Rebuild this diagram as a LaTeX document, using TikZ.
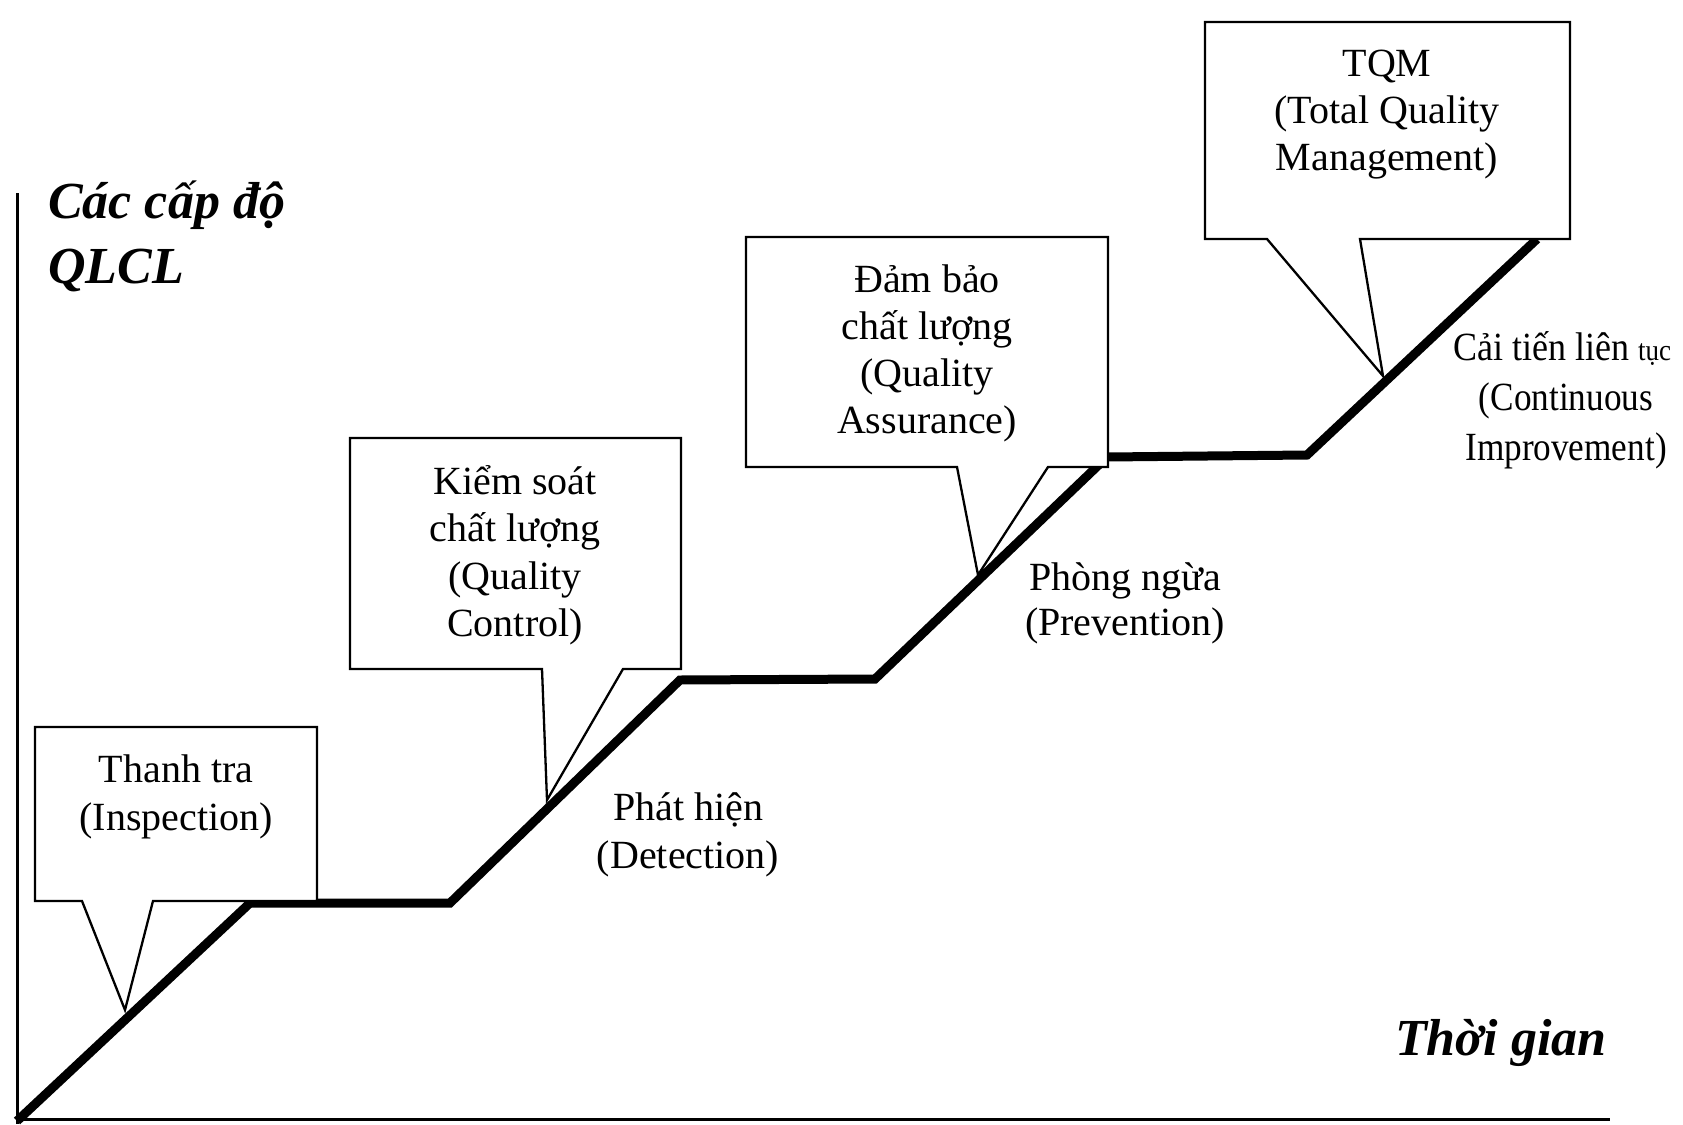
\documentclass[tikz,border=0pt]{standalone}
\usepackage{fontspec}
\setmainfont{Liberation Serif}
\begin{document}
\begin{tikzpicture}[x=1pt,y=-1pt,
  lbl/.style={anchor=base,inner sep=0pt,font=\fontsize{40}{48}\selectfont},
  axlbl/.style={anchor=base west,inner sep=0pt,font=\fontsize{52}{60}\selectfont\bfseries\itshape},
  axis/.style={line width=3pt},
  stair/.style={line width=9pt,line join=miter},
  callout/.style={line width=2.3pt,fill=white,line join=miter}]
\useasboundingbox (0,0) rectangle (1683,1124);

% axes
\coordinate (O) at (17,1121);
\coordinate (ytop) at (17,193);
\coordinate (ybot) at (17,1124);
\coordinate (xbeg) at (17,1119);
\coordinate (xend) at (1610,1119);
\draw[axis] (ytop) -- (ybot);
\draw[axis] (xbeg) -- (xend);

% staircase of quality levels
\coordinate (s1) at (250,903);
\coordinate (s2) at (450,903);
\coordinate (s3) at (680,680);
\coordinate (s4) at (875,679);
\coordinate (s5) at (1107,457);
\coordinate (s6) at (1307,455);
\coordinate (s7) at (1537,239);
\draw[stair] (O) -- (s1) -- (s2) -- (s3) -- (s4) -- (s5) -- (s6) -- (s7);

% callout boxes
\draw[callout] (35,727) -- (317,727) -- (317,901) -- (153,901) -- (125,1010) -- (82,901) -- (35,901) -- cycle;
\draw[callout] (350,438) -- (681,438) -- (681,669) -- (623,669) -- (547,800) -- (542,669) -- (350,669) -- cycle;
\draw[callout] (746,237) -- (1108,237) -- (1108,467) -- (1048,467) -- (978,575) -- (957,467) -- (746,467) -- cycle;
\draw[callout] (1205,22) -- (1570,22) -- (1570,239) -- (1360,239) -- (1383,376) -- (1267,239) -- (1205,239) -- cycle;

% box texts
\node[lbl] (i1) at (176,782) {Thanh tra};
\node[lbl] (i2) at (176,830) {(Inspection)};

\node[lbl] (c1) at (515,494) {Kiểm soát};
\node[lbl] (c2) at (515,541) {chất lượng};
\node[lbl] (c3) at (515,589) {(Quality};
\node[lbl] (c4) at (515,636) {Control)};

\node[lbl] (a1) at (927,292) {Đảm bảo};
\node[lbl] (a2) at (927,339) {chất lượng};
\node[lbl] (a3) at (927,386) {(Quality};
\node[lbl] (a4) at (927,433) {Assurance)};

\node[lbl] (t1) at (1387,76) {TQM};
\node[lbl] (t2) at (1387,123) {(Total Quality};
\node[lbl] (t3) at (1387,170) {Management)};

% step labels
\node[lbl] (d1) at (688,820) {Phát hiện};
\node[lbl] (d2) at (688,868) {(Detection)};

\node[lbl] (p1) at (1125,590) {Phòng ngừa};
\node[lbl] (p2) at (1125,635) {(Prevention)};

\node[lbl] (m1) at (1562,360) {\scalebox{0.9}[1]{Cải tiến liên {\fontsize{30}{30}\selectfont tục}}};
\node[lbl] (m2) at (1566,410) {\scalebox{0.88}[1]{(Continuous}};
\node[lbl] (m3) at (1566,460) {\scalebox{0.88}[1]{Improvement)}};

% axis titles
\node[axlbl] (yl1) at (48,218) {Các cấp độ};
\node[axlbl] (yl2) at (48,283) {QLCL};
\node[axlbl] (xl) at (1395,1055) {Thời gian};
\end{tikzpicture}
\end{document}
